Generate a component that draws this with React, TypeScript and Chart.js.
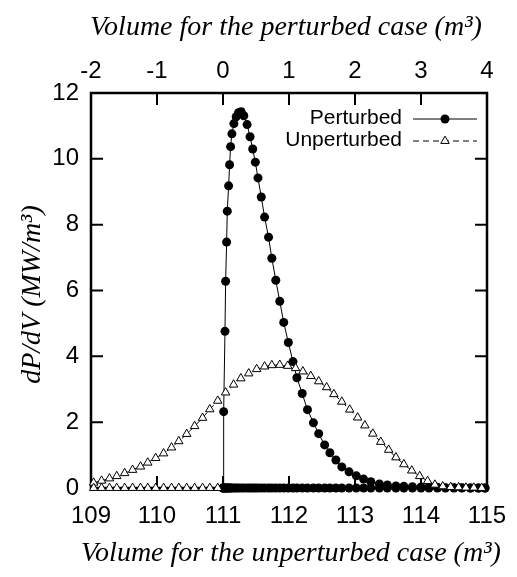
import React, { useEffect, useRef } from "react";
import { Chart, registerables } from "chart.js";

Chart.register(...registerables);

// ---- data ----
const seriesLabels = ["Perturbed", "Unperturbed"];
const xTitle = "Volume for the unperturbed case (m³)";
const x2Title = "Volume for the perturbed case (m³)";
const yTitle = "dP/dV (MW/m³)";
const xTicks = [109, 110, 111, 112, 113, 114, 115];
const x2Ticks = [-2, -1, 0, 1, 2, 3, 4];
const yTicks = [0, 2, 4, 6, 8, 10, 12];

const perturbedX = [
  111.0, 111.01, 111.03, 111.04, 111.055, 111.065, 111.085, 111.1, 111.115, 111.135,
  111.165, 111.2, 111.235, 111.275, 111.315, 111.365, 111.41, 111.45, 111.49, 111.53,
  111.58, 111.63, 111.69, 111.74, 111.8, 111.86, 111.92, 111.99, 112.06, 112.12,
  112.2, 112.28, 112.37, 112.45, 112.54, 112.62, 112.71, 112.8, 112.91, 113.02,
  113.13, 113.24, 113.37, 113.49, 113.62, 113.74, 113.87, 114.0, 114.12, 114.25,
  114.37, 114.5, 114.62, 114.75, 114.87, 114.97,
];
const perturbedY = [
  0, 2.32, 4.76, 6.28, 7.47, 8.41, 9.18, 9.82, 10.37, 10.76,
  11.07, 11.28, 11.4, 11.43, 11.31, 11.04, 10.67, 10.3, 9.9, 9.42,
  8.84, 8.23, 7.62, 6.98, 6.31, 5.67, 5.03, 4.42, 3.84, 3.35,
  2.87, 2.38, 1.98, 1.65, 1.31, 1.07, 0.85, 0.64, 0.49, 0.37,
  0.27, 0.19, 0.12, 0.09, 0.06, 0.05, 0.04, 0.03, 0.02, 0.02,
  0.01, 0.01, 0.01, 0, 0, 0,
];

const unperturbedX = [
  109.04, 109.16, 109.28, 109.39, 109.51, 109.63, 109.75, 109.86, 109.98, 110.1,
  110.22, 110.33, 110.45, 110.57, 110.69, 110.8, 110.92, 111.04, 111.16, 111.27,
  111.39, 111.51, 111.63, 111.74, 111.86, 111.98, 112.1, 112.21, 112.33, 112.45,
  112.57, 112.68, 112.8, 112.92, 113.04, 113.15, 113.27, 113.39, 113.51, 113.62,
  113.74, 113.86, 113.98, 114.1, 114.21, 114.33, 114.45, 114.57, 114.68, 114.8,
  114.92,
];
const unperturbedY = [
  0.16, 0.22, 0.29, 0.36, 0.45, 0.55, 0.65, 0.77, 0.91, 1.05,
  1.23, 1.42, 1.64, 1.88, 2.13, 2.39, 2.65, 2.9, 3.14, 3.33,
  3.48, 3.61, 3.69, 3.73, 3.74, 3.71, 3.64, 3.54, 3.4, 3.24,
  3.06, 2.85, 2.62, 2.38, 2.14, 1.9, 1.65, 1.4, 1.16, 0.93,
  0.72, 0.53, 0.36, 0.21, 0.1, 0.05, 0.03, 0.02, 0.01, 0.01,
  0.0,
];
// the zero-valued branch of the unperturbed data lies below this volume
const unperturbedZeroLimit = 111;

// ---- styles ----
const SANS = '"Liberation Sans", Arial, Helvetica, sans-serif';
const SERIF = '"Liberation Serif", "Times New Roman", serif';
const TICK_FONT = { family: SANS, size: 24 };
const TITLE_PX = 28;
const DOT_R = 4.5;
const TRI_R = 4.9;

const framePlugin = {
  id: "frameTicks",
  beforeDatasetsDraw(chart: any) {
    const { ctx, chartArea, scales } = chart;
    const { left, right, top, bottom } = chartArea;
    const tl = 12;
    ctx.save();
    ctx.strokeStyle = "#000";
    ctx.lineWidth = 2;
    ctx.beginPath();
    for (const v of xTicks) {
      const px = scales.x.getPixelForValue(v);
      ctx.moveTo(px, bottom);
      ctx.lineTo(px, bottom - tl);
    }
    for (const v of x2Ticks) {
      const px = scales.x2.getPixelForValue(v);
      ctx.moveTo(px, top);
      ctx.lineTo(px, top + tl);
    }
    for (const v of yTicks) {
      const py = scales.y.getPixelForValue(v);
      ctx.moveTo(left, py);
      ctx.lineTo(left + tl, py);
      ctx.moveTo(right, py);
      ctx.lineTo(right - tl, py);
    }
    ctx.stroke();
    ctx.lineWidth = 2.5;
    ctx.strokeRect(left, top, right - left, bottom - top);
    ctx.restore();
  },
};

const titlePlugin = {
  id: "axisTitles",
  afterDraw(chart: any) {
    const { ctx, chartArea } = chart;
    const cx = (chartArea.left + chartArea.right) / 2;
    const cy = (chartArea.top + chartArea.bottom) / 2;
    ctx.save();
    ctx.fillStyle = "#000";
    ctx.font = `italic ${TITLE_PX}px ${SERIF}`;
    ctx.textAlign = "center";
    ctx.textBaseline = "alphabetic";
    ctx.fillText(x2Title, cx - 3, 35);
    ctx.fillText(xTitle, cx + 2, 561);
    ctx.translate(40, cy + 4);
    ctx.rotate(-Math.PI / 2);
    ctx.fillText(yTitle, 0, 0);
    ctx.restore();
  },
};

const legendPlugin = {
  id: "customLegend",
  afterDraw(chart: any) {
    const { ctx, chartArea } = chart;
    const textRight = chartArea.right - 85;
    const sx0 = chartArea.right - 74;
    const sx1 = chartArea.right - 10;
    const rows = [chartArea.top + 25, chartArea.top + 47];
    ctx.save();
    ctx.font = `21px ${SANS}`;
    ctx.textAlign = "right";
    ctx.textBaseline = "middle";
    ctx.fillStyle = "#000";
    ctx.strokeStyle = "#000";
    seriesLabels.forEach((lab, i) => {
      const y = rows[i];
      ctx.fillText(lab, textRight, y);
      ctx.lineWidth = 1;
      ctx.setLineDash(i === 0 ? [] : [6, 4]);
      ctx.beginPath();
      ctx.moveTo(sx0, y + 1);
      ctx.lineTo(sx1, y + 1);
      ctx.stroke();
      ctx.setLineDash([]);
      const cx = (sx0 + sx1) / 2;
      if (i === 0) {
        ctx.beginPath();
        ctx.arc(cx, y + 1, DOT_R, 0, Math.PI * 2);
        ctx.fill();
      } else {
        const r = TRI_R;
        ctx.beginPath();
        ctx.moveTo(cx, y + 1 - r);
        ctx.lineTo(cx + r * 0.866, y + 1 + r / 2);
        ctx.lineTo(cx - r * 0.866, y + 1 + r / 2);
        ctx.closePath();
        ctx.fillStyle = "#fff";
        ctx.fill();
        ctx.stroke();
        ctx.fillStyle = "#000";
      }
    });
    ctx.restore();
  },
};

export default function App() {
  const ref = useRef<HTMLCanvasElement | null>(null);

  useEffect(() => {
    if (!ref.current) return;

    const perturbedData = [
      ...perturbedX.map((x, i) => ({ x, y: perturbedY[i] })),
      ...perturbedX.slice().reverse().map((x) => ({ x, y: 0 })),
    ];
    const unperturbedZero = unperturbedX.filter((x) => x < unperturbedZeroLimit);
    const unperturbedData = [
      ...unperturbedX.map((x, i) => ({ x, y: unperturbedY[i] })),
      ...unperturbedZero.slice().reverse().map((x) => ({ x, y: 0 })),
    ];

    const noPad = (s: any) => {
      s.paddingLeft = 0;
      s.paddingRight = 0;
      s.paddingTop = 0;
      s.paddingBottom = 0;
    };

    const chart = new Chart(ref.current, {
      type: "scatter",
      data: {
        datasets: [
          {
            label: seriesLabels[0],
            data: perturbedData,
            showLine: true,
            borderColor: "#000",
            borderWidth: 1,
            pointStyle: "circle",
            pointRadius: DOT_R,
            pointBackgroundColor: "#000",
            pointBorderColor: "#000",
            pointBorderWidth: 0,
            clip: false,
            order: 1,
          } as any,
          {
            label: seriesLabels[1],
            data: unperturbedData,
            showLine: true,
            borderColor: "#000",
            borderWidth: 1,
            borderDash: [6, 4],
            pointStyle: "triangle",
            pointRadius: TRI_R,
            pointBackgroundColor: "#fff",
            pointBorderColor: "#000",
            pointBorderWidth: 1,
            clip: false,
            order: 0,
          } as any,
        ],
      },
      options: {
        animation: false,
        responsive: false,
        devicePixelRatio: 1,
        layout: { padding: { left: 0, right: 30, top: 0, bottom: 0 } },
        plugins: {
          legend: { display: false },
          tooltip: { enabled: false },
        },
        scales: {
          x: {
            type: "linear",
            position: "bottom",
            min: 109,
            max: 115,
            afterBuildTicks: (s: any) => {
              s.ticks = xTicks.map((v) => ({ value: v }));
            },
            grid: { display: false, drawTicks: false },
            border: { display: false },
            ticks: { font: TICK_FONT, color: "#000", padding: 14, maxRotation: 0, autoSkip: false },
            title: { display: false },
            afterFit: (s: any) => {
              s.height = 89;
              noPad(s);
            },
          },
          x2: {
            type: "linear",
            position: "top",
            min: -2,
            max: 4,
            afterBuildTicks: (s: any) => {
              s.ticks = x2Ticks.map((v) => ({ value: v }));
            },
            grid: { display: false, drawTicks: false },
            border: { display: false },
            ticks: { font: TICK_FONT, color: "#000", padding: 7, maxRotation: 0, autoSkip: false },
            title: { display: false },
            afterFit: (s: any) => {
              s.height = 93;
              noPad(s);
            },
          },
          y: {
            type: "linear",
            position: "left",
            min: 0,
            max: 12,
            afterBuildTicks: (s: any) => {
              s.ticks = yTicks.map((v) => ({ value: v }));
            },
            grid: { display: false, drawTicks: false },
            border: { display: false },
            ticks: { font: TICK_FONT, color: "#000", padding: 12, autoSkip: false },
            title: { display: false },
            afterFit: (s: any) => {
              s.width = 91;
              noPad(s);
            },
          },
        },
      } as any,
      plugins: [framePlugin, titlePlugin, legendPlugin],
    });

    return () => chart.destroy();
  }, []);

  return (
    <div style={{ position: "fixed", left: 0, top: 0, width: 517, height: 577, background: "#fff" }}>
      <canvas ref={ref} width={517} height={577} style={{ display: "block", width: 517, height: 577 }} />
    </div>
  );
}
